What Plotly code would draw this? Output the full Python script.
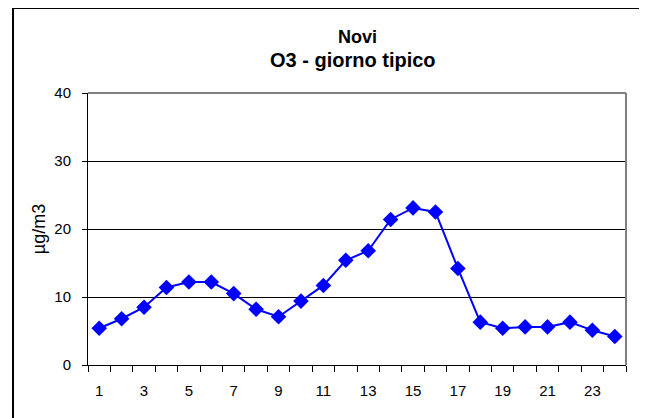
import plotly.graph_objects as go

hours = list(range(1, 25))
o3 = [5.4, 6.8, 8.5, 11.4, 12.2, 12.2, 10.5, 8.2, 7.1, 9.4, 11.7, 15.4,
      16.8, 21.4, 23.1, 22.5, 14.2, 6.3, 5.4, 5.6, 5.6, 6.3, 5.1, 4.2]
x_labels = [str(h) for h in hours if h % 2 == 1]
title_lines = ["Novi", "O3 - giorno tipico"]
y_title = "µg/m3"

# page has an 8px body margin; figure drawn at offset (8, 8)
OFF = 8
W, H = 647 - OFF, 418 - OFF
PL, PR, PT, PB = 88, 626, 93, 365          # plot area in page pixels
L, T = PL - OFF, PT - OFF
R, B = W - (PR - OFF), H - (PB - OFF)
pw, ph = PR - PL, PB - PT

def px(x):
    return (x - PL) / pw

def py(y):
    return (PB - y) / ph

fig = go.Figure()
fig.add_trace(go.Scatter(
    x=hours, y=o3, mode="lines+markers",
    line=dict(color="#0000FF", width=2),
    marker=dict(symbol="diamond", size=12, color="#0000FF"),
    showlegend=False, cliponaxis=False,
))

fig.update_layout(
    width=W, height=H,
    margin=dict(l=L, r=R, t=T, b=B, pad=0),
    paper_bgcolor="white", plot_bgcolor="white",
    font=dict(family="Liberation Sans, Arial, sans-serif", color="black", size=15),
    xaxis=dict(
        range=[0.5, 24.5], tickmode="array",
        tickvals=[h for h in hours if h % 2 == 1], ticktext=x_labels,
        ticks="", showgrid=False, zeroline=False,
        showline=True, linecolor="black", linewidth=1,
        ticklabelstandoff=12,
        minor=dict(tickvals=[h + 0.5 for h in range(0, 25)], ticks="outside",
                   ticklen=6, tickcolor="black", tickwidth=1, showgrid=False),
        fixedrange=True,
    ),
    yaxis=dict(
        range=[0, 40], tickvals=[0, 10, 20, 30, 40],
        ticks="outside", ticklen=5, tickcolor="black",
        showgrid=True, gridcolor="black", gridwidth=1,
        zeroline=False, showline=True, linecolor="black", linewidth=1,
        ticklabelstandoff=8,
        title=dict(text=y_title, font=dict(size=18), standoff=4),
        fixedrange=True,
    ),
)

# plot frame top/right (grey)
fig.add_shape(type="line", xref="paper", yref="paper", x0=0, x1=1, y0=1, y1=1,
              line=dict(color="#808080", width=2))
fig.add_shape(type="line", xref="paper", yref="paper", x0=1, x1=1, y0=0, y1=1,
              line=dict(color="#808080", width=2))
# outer chart border
fig.add_shape(type="rect", xref="paper", yref="paper",
              x0=px(13), x1=px(643), y0=py(430), y1=py(8),
              line=dict(color="black", width=2), layer="below")

fig.add_annotation(text="<b>" + title_lines[0] + "</b>", xref="paper", yref="paper",
                   x=px(357), y=py(37.5), xanchor="center", yanchor="middle",
                   showarrow=False, font=dict(size=18))
fig.add_annotation(text="<b>" + title_lines[1] + "</b>", xref="paper", yref="paper",
                   x=px(353), y=py(59.5), xanchor="center", yanchor="middle",
                   showarrow=False, font=dict(size=20))

fig.write_html("out.html")
